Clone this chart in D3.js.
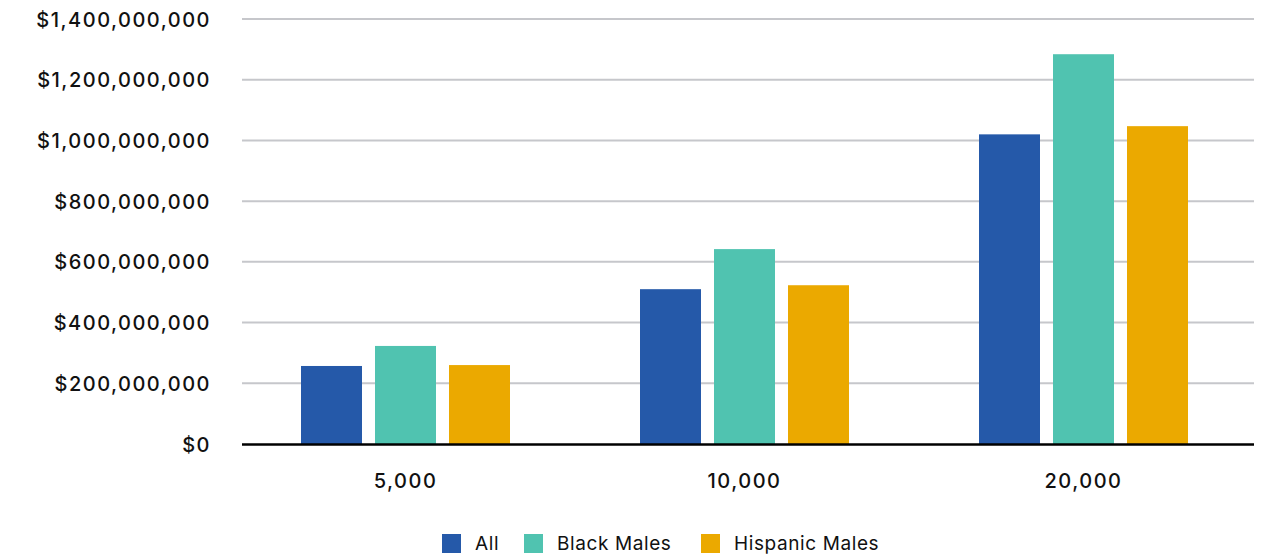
<!DOCTYPE html>
<html>
<head>
<meta charset="utf-8">
<script src="https://cdn.jsdelivr.net/npm/d3@7"></script>
<style>
  html, body { margin: 0; padding: 0; background: #fff; }
  svg { display: block; }
  text { font-family: "Inter", "Noto Sans", sans-serif; fill: #111; }
</style>
</head>
<body>
<svg id="chart" width="1267" height="555"></svg>
<script>
const categories = ["5,000", "10,000", "20,000"];
const seriesNames = ["All", "Black Males", "Hispanic Males"];
const seriesColors = ["#2559A9", "#50C3B0", "#EBA900"];
const valuesAll = [257e6, 510e6, 1020e6];
const valuesBlack = [323e6, 642e6, 1284e6];
const valuesHispanic = [260e6, 523e6, 1047e6];
const yTicks = [0, 200e6, 400e6, 600e6, 800e6, 1000e6, 1200e6, 1400e6];

const seriesValues = [valuesAll, valuesBlack, valuesHispanic];
const data = categories.map((c, i) => ({
  cat: c,
  vals: seriesNames.map((s, j) => ({ series: s, color: seriesColors[j], value: seriesValues[j][i] }))
}));

const svg = d3.select("#chart");
const plotLeft = 242, plotRight = 1254;

const y = d3.scaleLinear().domain([0, 1.4e9]).range([444, 19]);
const x0 = d3.scaleBand().domain(categories).range([236, 1253]).padding(0);
const groupW = 209;
const x1 = d3.scaleBand().domain(seriesNames).range([0, groupW]).paddingInner(13 / 74).paddingOuter(0);

// gridlines
svg.append("g").selectAll("line").data(yTicks.filter(t => t > 0)).join("line")
  .attr("x1", plotLeft).attr("x2", plotRight)
  .attr("y1", d => y(d)).attr("y2", d => y(d))
  .attr("stroke", "#c6c7cb").attr("stroke-width", 2);

// y axis labels
const fmt = d => "$" + d3.format(",")(d);
const yAxis = d3.axisLeft(y).tickValues(yTicks).tickFormat(fmt).tickSize(0).tickPadding(0);
const yg = svg.append("g").attr("transform", "translate(211,0)").call(yAxis);
yg.select(".domain").remove();
yg.selectAll("text")
  .attr("font-family", "Inter, 'Noto Sans', sans-serif")
  .style("font-size", "20px").style("font-weight", "500")
  .style("letter-spacing", "1.5px")
  .attr("fill", "#111").attr("dy", "0.35em");

// bars
const groups = svg.append("g").selectAll("g").data(data).join("g")
  .attr("transform", d => `translate(${x0(d.cat) + (x0.bandwidth() - groupW) / 2},0)`);
groups.selectAll("rect").data(d => d.vals).join("rect")
  .attr("x", d => x1(d.series))
  .attr("width", x1.bandwidth())
  .attr("y", d => y(d.value))
  .attr("height", d => y(0) - y(d.value))
  .attr("fill", d => d.color);

// baseline
svg.append("line")
  .attr("x1", plotLeft).attr("x2", plotRight)
  .attr("y1", y(0) + 0.5).attr("y2", y(0) + 0.5)
  .attr("stroke", "#000").attr("stroke-width", 2.5);

// x axis labels
const xAxis = d3.axisBottom(x0).tickSize(0).tickPadding(0);
const xg = svg.append("g").attr("transform", "translate(0,488)").call(xAxis);
xg.select(".domain").remove();
xg.selectAll("text")
  .attr("font-family", "Inter, 'Noto Sans', sans-serif")
  .style("font-size", "20px").style("font-weight", "500")
  .style("letter-spacing", "1.5px")
  .attr("fill", "#111").attr("dy", "0");

// legend
const legendX = [442, 524, 701];
const lg = svg.append("g").selectAll("g").data(seriesNames).join("g")
  .attr("transform", (d, i) => `translate(${legendX[i]},534)`);
lg.append("rect").attr("width", 19).attr("height", 19).attr("fill", (d, i) => seriesColors[i]);
lg.append("text").attr("x", 33).attr("y", 16)
  .style("font-size", "19px").style("font-weight", "400")
  .style("letter-spacing", "0.6px")
  .attr("fill", "#222")
  .text(d => d);
</script>
</body>
</html>
